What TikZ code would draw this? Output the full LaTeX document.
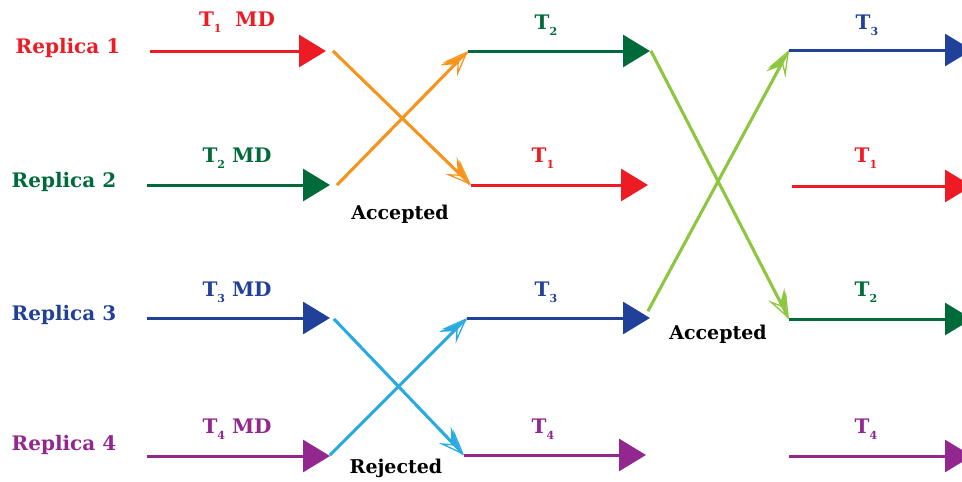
\documentclass[tikz,border=0pt]{standalone}
\usepackage{fontspec}
\setmainfont{DejaVu Serif}
\usetikzlibrary{arrows.meta}
\definecolor{cred}{HTML}{ED1C24}
\definecolor{cgreen}{HTML}{006B3A}
\definecolor{cblue}{HTML}{21409A}
\definecolor{cpurple}{HTML}{92278F}
\definecolor{corange}{HTML}{F7941D}
\definecolor{ccyan}{HTML}{29ABE2}
\definecolor{clime}{HTML}{8DC63F}
\tikzset{
  flow/.style={line width=3pt,-{Triangle[length=27pt,width=32pt]}},
  swapline/.style={line width=2.8pt,-{Stealth[open,length=26pt,width=20pt,inset=11pt,line width=1.3pt]}},
  swaphalf/.style={line width=2.8pt,-{Stealth[harpoon,length=26pt,width=20pt,inset=11pt]}},
  rlabel/.style={font=\bfseries\fontsize{20}{24}\selectfont, anchor=center},
  tlabel/.style={font=\bfseries\fontsize{20}{24}\selectfont, anchor=center},
  note/.style={font=\bfseries\fontsize{19}{24}\selectfont, anchor=center, text=black}
}
\newcommand{\Tsub}[1]{T\raisebox{-0.6ex}{\fontsize{11}{11}\selectfont #1}}
\begin{document}
\begin{tikzpicture}[x=1pt,y=-1pt]
\useasboundingbox (0,0) rectangle (962,482);
% replica labels
\node[rlabel,text=cred] (r1) at (68,48) {Replica 1};
\node[rlabel,text=cgreen] (r2) at (64,182) {Replica 2};
\node[rlabel,text=cblue] (r3) at (64,315) {Replica 3};
\node[rlabel,text=cpurple] (r4) at (64,445) {Replica 4};
% column 1 coordinates
\coordinate (a1s) at (150,51); \coordinate (a1e) at (326,51);
\coordinate (a2s) at (147,185); \coordinate (a2e) at (330,185);
\coordinate (a3s) at (147,318); \coordinate (a3e) at (330,318);
\coordinate (a4s) at (147,456); \coordinate (a4e) at (330,456);
\draw[flow,cred] (a1s) -- (a1e);
\draw[flow,cgreen] (a2s) -- (a2e);
\draw[flow,cblue] (a3s) -- (a3e);
\draw[flow,cpurple] (a4s) -- (a4e);
\node[tlabel,text=cred] (l1) at (237,22) {\Tsub{1}\ \ MD};
\node[tlabel,text=cgreen] (l2) at (237,158) {\Tsub{2} MD};
\node[tlabel,text=cblue] (l3) at (237,292) {\Tsub{3} MD};
\node[tlabel,text=cpurple] (l4) at (237,429) {\Tsub{4} MD};
% column 2 coordinates
\coordinate (b1s) at (468,51); \coordinate (b1e) at (650,51);
\coordinate (b2s) at (471,185); \coordinate (b2e) at (648,185);
\coordinate (b3s) at (467,318); \coordinate (b3e) at (650,318);
\coordinate (b4s) at (464,455); \coordinate (b4e) at (646,455);
% orange cross
\coordinate (o1) at (333,51); \coordinate (o2) at (337,185);
\draw[swapline,corange] (o1) -- (b2s);
\draw[swaphalf,corange] (o1) -- (b2s);
\draw[swapline,corange] (o2) -- (b1s);
\draw[swaphalf,corange] (o2) -- (b1s);
% cyan cross
\coordinate (c1) at (334,319); \coordinate (c2) at (330,455);
\draw[swapline,ccyan] (c1) -- (b4s);
\draw[swaphalf,ccyan] (c1) -- (b4s);
\draw[swapline,ccyan] (c2) -- (b3s);
\draw[swaphalf,ccyan] (c2) -- (b3s);
\draw[flow,cgreen] (b1s) -- (b1e);
\draw[flow,cred] (b2s) -- (b2e);
\draw[flow,cblue] (b3s) -- (b3e);
\draw[flow,cpurple] (b4s) -- (b4e);
\node[tlabel,text=cgreen] (m1) at (546,25) {\Tsub{2}};
\node[tlabel,text=cred] (m2) at (543,158) {\Tsub{1}};
\node[tlabel,text=cblue] (m3) at (546,292) {\Tsub{3}};
\node[tlabel,text=cpurple] (m4) at (543,429) {\Tsub{4}};
\node[note] (acc1) at (400,214) {Accepted};
\node[note] (rej) at (396,468) {Rejected};
% column 3 coordinates
\coordinate (d1s) at (789,50); \coordinate (d1e) at (972,50);
\coordinate (d2s) at (792,186); \coordinate (d2e) at (972,186);
\coordinate (d3s) at (789,319); \coordinate (d3e) at (972,319);
\coordinate (d4s) at (789,456); \coordinate (d4e) at (972,456);
% lime cross
\coordinate (g1) at (651,51); \coordinate (g2) at (648,311);
\draw[swapline,clime] (g1) -- (d3s);
\draw[swaphalf,clime] (g1) -- (d3s);
\draw[swapline,clime] (g2) -- (d1s);
\draw[swaphalf,clime] (g2) -- (d1s);
\draw[flow,cblue] (d1s) -- (d1e);
\draw[flow,cred] (d2s) -- (d2e);
\draw[flow,cgreen] (d3s) -- (d3e);
\draw[flow,cpurple] (d4s) -- (d4e);
\node[tlabel,text=cblue] (n1) at (867,25) {\Tsub{3}};
\node[tlabel,text=cred] (n2) at (866,158) {\Tsub{1}};
\node[tlabel,text=cgreen] (n3) at (866,292) {\Tsub{2}};
\node[tlabel,text=cpurple] (n4) at (866,429) {\Tsub{4}};
\node[note] (acc2) at (718,334) {Accepted};
\end{tikzpicture}
\end{document}
